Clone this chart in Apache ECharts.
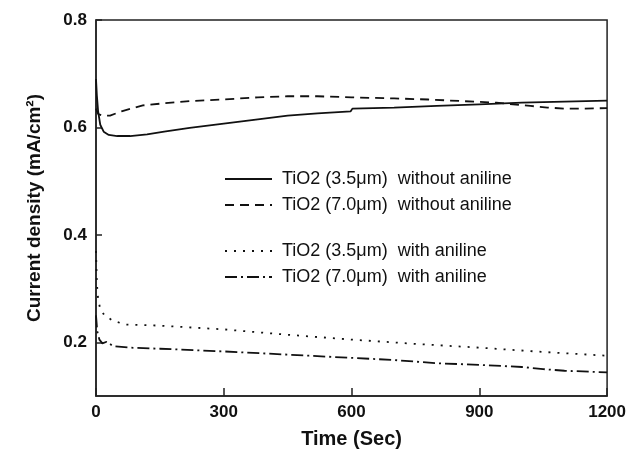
<!DOCTYPE html>
<html>
<head>
<meta charset="utf-8">
<script src="https://cdn.jsdelivr.net/npm/echarts@6/dist/echarts.min.js"></script>
<style>
  html, body { margin: 0; padding: 0; background: #fff; }
  #chart { width: 629px; height: 454px; }
</style>
</head>
<body>
<div id="chart"></div>
<script>
// tick labels
const xTicks = [0, 300, 600, 900, 1200];
const yTicks = [0.2, 0.4, 0.6, 0.8];

// series names
const names = [
  'TiO2 (3.5\u03bcm)  without aniline',
  'TiO2 (7.0\u03bcm)  without aniline',
  'TiO2 (3.5\u03bcm)  with aniline',
  'TiO2 (7.0\u03bcm)  with aniline'
];

// TiO2 3.5um without aniline (solid)
const tA = [0, 2, 5, 10, 18, 30, 50, 80, 120, 160, 220, 300, 380, 450, 520, 598, 602, 700, 800, 900, 1000, 1100, 1200];
const vA = [0.69, 0.66, 0.63, 0.605, 0.592, 0.586, 0.584, 0.584, 0.587, 0.592, 0.599, 0.607, 0.615, 0.622, 0.626, 0.630, 0.635, 0.637, 0.640, 0.643, 0.646, 0.648, 0.650];

// TiO2 7.0um without aniline (dashed)
const tB = [0, 5, 15, 33, 60, 110, 160, 220, 300, 380, 450, 520, 600, 700, 780, 860, 940, 1020, 1060, 1100, 1140, 1200];
const vB = [0.635, 0.625, 0.622, 0.622, 0.630, 0.641, 0.645, 0.649, 0.652, 0.656, 0.658, 0.658, 0.656, 0.654, 0.652, 0.649, 0.646, 0.640, 0.637, 0.635, 0.635, 0.636];

// TiO2 3.5um with aniline (dotted)
const tC = [0, 2, 5, 10, 20, 40, 70, 150, 300, 450, 600, 750, 900, 1050, 1200];
const vC = [0.37, 0.31, 0.28, 0.262, 0.25, 0.240, 0.233, 0.231, 0.224, 0.214, 0.205, 0.197, 0.190, 0.182, 0.175];

// TiO2 7.0um with aniline (dash-dot)
const tD = [0, 3, 8, 15, 25, 40, 80, 150, 300, 400, 500, 600, 700, 800, 900, 1000, 1050, 1100, 1200];
const vD = [0.25, 0.22, 0.205, 0.198, 0.201, 0.193, 0.190, 0.188, 0.183, 0.179, 0.175, 0.171, 0.167, 0.161, 0.158, 0.154, 0.150, 0.147, 0.144];

const pairs = (t, v) => t.map((x, i) => [x, v[i]]);
const ink = '#111';

const lineSeries = (name, t, v, type) => ({
  name,
  type: 'line',
  data: pairs(t, v),
  symbol: 'none',
  lineStyle: { color: ink, width: 1.8, type },
  itemStyle: { color: ink }
});

const chart = echarts.init(document.getElementById('chart'));

// legend icons: line only, hide the marker
const legendBase = {
  orient: 'vertical',
  left: 219,
  itemWidth: 47,
  itemHeight: 14,
  itemGap: 8,
  itemStyle: { opacity: 0 },
  textStyle: { fontFamily: 'Liberation Sans', fontSize: 18, color: ink, padding: [0, 0, 0, 5] }
};

const option = {
  animation: false,
  grid: {
    left: 96, right: 18, top: 20, bottom: 55,
    show: true, borderColor: '#222', borderWidth: 1.5
  },
  legend: [
    Object.assign({ top: 165, data: names.slice(0, 2) }, legendBase),
    Object.assign({ top: 237, data: names.slice(2, 4) }, legendBase)
  ],
  xAxis: {
    type: 'value',
    min: xTicks[0],
    max: xTicks[xTicks.length - 1],
    interval: 300,
    name: 'Time (Sec)',
    nameLocation: 'middle',
    nameGap: 33,
    nameTextStyle: { fontFamily: 'Liberation Sans', fontWeight: 'bold', fontSize: 20, color: ink },
    axisLine: { lineStyle: { color: '#222', width: 1.5 } },
    axisTick: { inside: true, length: 8, lineStyle: { color: '#222', width: 1.5 } },
    axisLabel: {
      formatter: v => String(v),
      fontFamily: 'Liberation Sans', fontWeight: 'bold', fontSize: 17, color: ink, margin: 8
    },
    splitLine: { show: false }
  },
  yAxis: {
    type: 'value',
    min: 0.1,
    max: 0.8,
    name: 'Current density (mA/cm\u00b2)',
    nameLocation: 'middle',
    nameGap: 52,
    nameTextStyle: { fontFamily: 'Liberation Sans', fontWeight: 'bold', fontSize: 19, color: ink },
    axisLine: { lineStyle: { color: '#222', width: 1.5 } },
    axisTick: { inside: true, length: 6, customValues: yTicks, lineStyle: { color: '#222', width: 1.5 } },
    axisLabel: {
      customValues: yTicks,
      formatter: v => v.toFixed(1),
      fontFamily: 'Liberation Sans', fontWeight: 'bold', fontSize: 17, color: ink, margin: 9
    },
    splitLine: { show: false }
  },
  series: [
    lineSeries(names[0], tA, vA, 'solid'),
    lineSeries(names[1], tB, vB, [9, 6]),
    lineSeries(names[2], tC, vC, [2, 7]),
    lineSeries(names[3], tD, vD, [12, 4, 2, 4])
  ]
};

chart.setOption(option);
</script>
</body>
</html>
